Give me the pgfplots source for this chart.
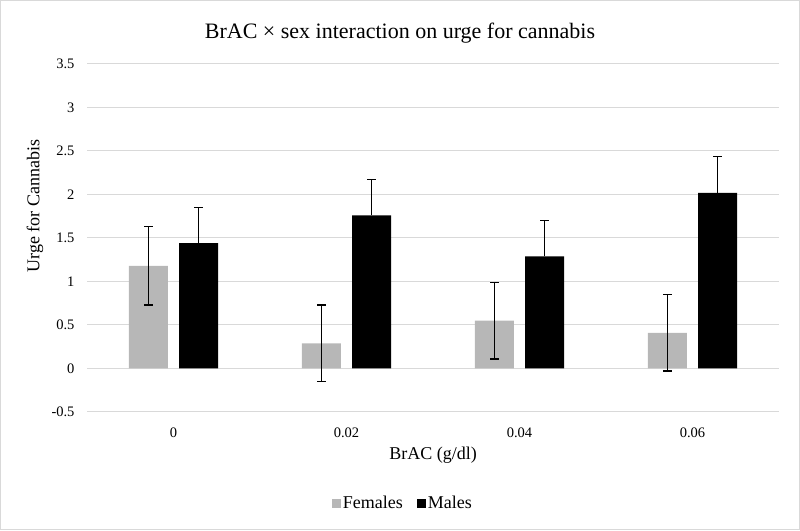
\documentclass[border=0pt]{standalone}
\usepackage{fontspec}
\setmainfont{Liberation Serif}
\usepackage{pgfplots}
\pgfplotsset{compat=1.18}
\definecolor{femgray}{RGB}{183,183,183}
\definecolor{gridgray}{RGB}{217,217,217}
\definecolor{framegray}{RGB}{217,217,217}
\begin{document}
\begin{tikzpicture}[x=1pt,y=1pt]
\draw[framegray, line width=1pt] (0.5,0.5) rectangle (799.5,529.5);
\begin{axis}[
  at={(87pt,118pt)}, anchor=south west,
  scale only axis, width=692pt, height=348pt,
  xmin=-0.5, xmax=3.5, ymin=-0.5, ymax=3.5,
  xtick={0,1,2,3}, xticklabels={0,0.02,0.04,0.06},
  ytick={-0.5,0,0.5,1,1.5,2,2.5,3,3.5},
  yticklabels={-0.5,0,0.5,1,1.5,2,2.5,3,3.5},
  /pgf/number format/assume math mode=true,
  ymajorgrids, grid style={gridgray, line width=1pt},
  axis line style={draw=none}, tick style={draw=none},
  ticklabel style={font=\fontsize{14.5}{16}\selectfont},
  yticklabel style={xshift=-9pt},
  xticklabel style={yshift=-8pt},
  ybar, bar width=0.225,
  legend style={at={(axis description cs:0.4566,-0.2615)}, anchor=center, draw=none, fill=none,
     font=\fontsize{18}{20}\selectfont, legend columns=2,
     /tikz/every even column/.append style={column sep=12pt}},
  legend image code/.code={\fill[#1] (0pt,-4.5pt) rectangle (9pt,4.5pt);},
]
\addplot[fill=femgray, draw=none, bar shift=-0.145,
  error bars/.cd, y dir=both, y explicit,
  error bar style={black, line width=1.3pt},
  error mark options={rotate=90, mark size=4.3pt, black, line width=1.3pt}]
  coordinates {(0,1.18) +- (0,0.45) (1,0.29) +- (0,0.44) (2,0.55) +- (0,0.44) (3,0.41) +- (0,0.44)};
\addlegendentry{Females}
\addplot[fill=black, draw=none, bar shift=0.145,
  error bars/.cd, y dir=plus, y explicit,
  error bar style={black, line width=1.3pt},
  error mark options={rotate=90, mark size=4.3pt, black, line width=1.3pt}]
  coordinates {(0,1.44) +- (0,0.41) (1,1.76) +- (0,0.41) (2,1.29) +- (0,0.41) (3,2.02) +- (0,0.42)};
\addlegendentry{Males}
\end{axis}
\node[font=\fontsize{22}{24}\selectfont] at (400,497) {BrAC × sex interaction on urge for cannabis};
\node[font=\fontsize{18}{20}\selectfont, rotate=90] at (35,324) {Urge for Cannabis};
\node[font=\fontsize{18}{20}\selectfont] at (433,75) {BrAC (g/dl)};
\end{tikzpicture}
\end{document}
